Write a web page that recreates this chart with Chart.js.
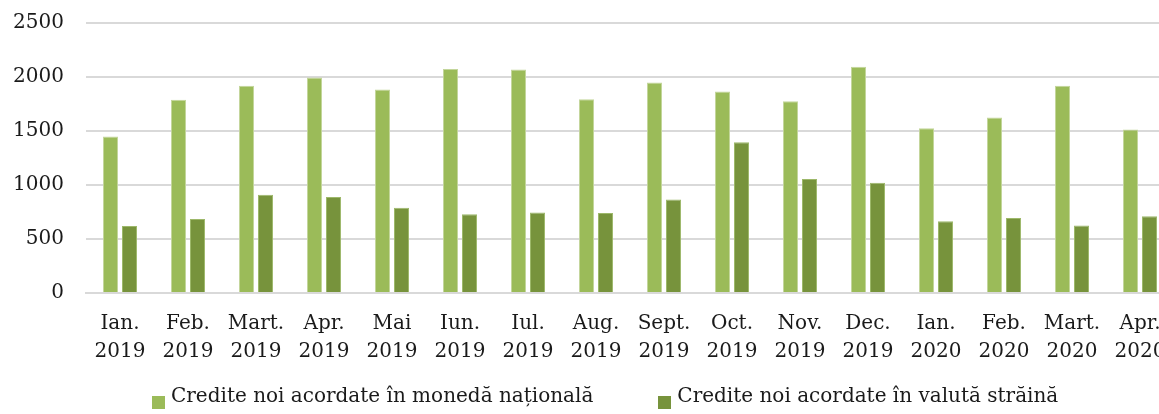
<!DOCTYPE html>
<html>
<head>
<meta charset="utf-8">
<script src="https://cdn.jsdelivr.net/npm/chart.js@4"></script>
<style>
  html, body { margin: 0; padding: 0; background: #fff; overflow: hidden; }
  #wrap { position: relative; width: 1206px; height: 414px; }
  #legend {
    position: absolute; left: 152px; top: 383px;
    font-family: "DejaVu Serif", serif; font-size: 20px; line-height: 24px;
    color: #1a1a1a; white-space: nowrap;
  }
  #legend span.item { margin-right: 65px; }
  #legend i {
    display: inline-block; width: 13px; height: 13px;
    vertical-align: -7px; margin-right: 6px;
  }
</style>
</head>
<body>
<div id="wrap">
  <canvas id="chart"></canvas>
  <div id="legend"></div>
</div>
<script>
// luni (etichete axa X)
const months = [
    ['Ian.', '2019'], ['Feb.', '2019'], ['Mart.', '2019'], ['Apr.', '2019'],
    ['Mai', '2019'], ['Iun.', '2019'], ['Iul.', '2019'], ['Aug.', '2019'],
    ['Sept.', '2019'], ['Oct.', '2019'], ['Nov.', '2019'], ['Dec.', '2019'],
    ['Ian.', '2020'], ['Feb.', '2020'], ['Mart.', '2020'], ['Apr.', '2020']
];

// serii
const monedaNationala = [1450, 1790, 1920, 1995, 1885, 2075, 2070, 1795, 1950, 1865, 1775, 2095, 1525, 1625, 1920, 1515];
const valutaStraina   = [ 620,  685,  910,  890,  790,  730,  745,  740,  865, 1395, 1055, 1020,  665,  695,  625,  710];

const yTicks = [0, 500, 1000, 1500, 2000, 2500];

const fontFamily = '"DejaVu Serif", serif';
const textColor = '#1a1a1a';

const ctx = document.getElementById('chart').getContext('2d');

// Chart instance
let chart = new Chart(ctx, {
    type: 'bar',
    data: {
        labels: months,
        datasets: [{
            label: 'Credite noi acordate în monedă națională',
            data: monedaNationala,
            backgroundColor: '#9BBB59',
            borderColor: '#C3D69B',
            borderWidth: 1,
            categoryPercentage: 0.56,
            barPercentage: 0.79,
        }, {
            label: 'Credite noi acordate în valută străină',
            data: valutaStraina,
            backgroundColor: '#77933C',
            borderColor: '#9DB86A',
            borderWidth: 1,
            categoryPercentage: 0.56,
            barPercentage: 0.79,
        }],
    },
    options: {
        responsive: true,
        maintainAspectRatio: false,
        animation: false,
        layout: { padding: { top: 23, bottom: 31, left: 0, right: 0 } },
        plugins: {
            tooltip: { enabled: false },
            legend: { display: false },
        },
        scales: {
            x: {
                grid: { display: false, drawTicks: false },
                border: { display: true, color: '#d9d9d9', width: 2 },
                ticks: {
                    font: { family: fontFamily, size: 20, lineHeight: 1.4 },
                    color: textColor,
                    maxRotation: 0,
                    autoSkip: false,
                    padding: 17,
                },
                afterFit: scale => { scale.paddingLeft = 0; scale.paddingRight = 0; },
            },
            y: {
                min: 0,
                max: 2500,
                afterBuildTicks: scale => { scale.ticks = yTicks.map(v => ({ value: v })); },
                afterFit: scale => {
                    scale.width = 86;
                    scale.paddingTop = 0;
                    scale.paddingBottom = 0;
                },
                grid: { color: '#d9d9d9', lineWidth: 2, drawTicks: false },
                border: { display: false },
                ticks: {
                    font: { family: fontFamily, size: 20 },
                    color: textColor,
                    padding: 22,
                    callback: v => String(v),
                },
            },
            // axa goala pe dreapta, doar ca sa impinga zona graficului
            spacer: {
                position: 'right',
                display: true,
                grid: { display: false },
                border: { display: false },
                ticks: { display: false },
                afterFit: scale => {
                    scale.width = 32;
                    scale.paddingTop = 0;
                    scale.paddingBottom = 0;
                },
            },
        },
    },
});

// legenda HTML construita din seturile de date
const legendEl = document.getElementById('legend');
chart.data.datasets.forEach(ds => {
    const item = document.createElement('span');
    item.className = 'item';
    const box = document.createElement('i');
    box.style.background = ds.backgroundColor;
    item.appendChild(box);
    item.appendChild(document.createTextNode(ds.label));
    legendEl.appendChild(item);
});
</script>
</body>
</html>
